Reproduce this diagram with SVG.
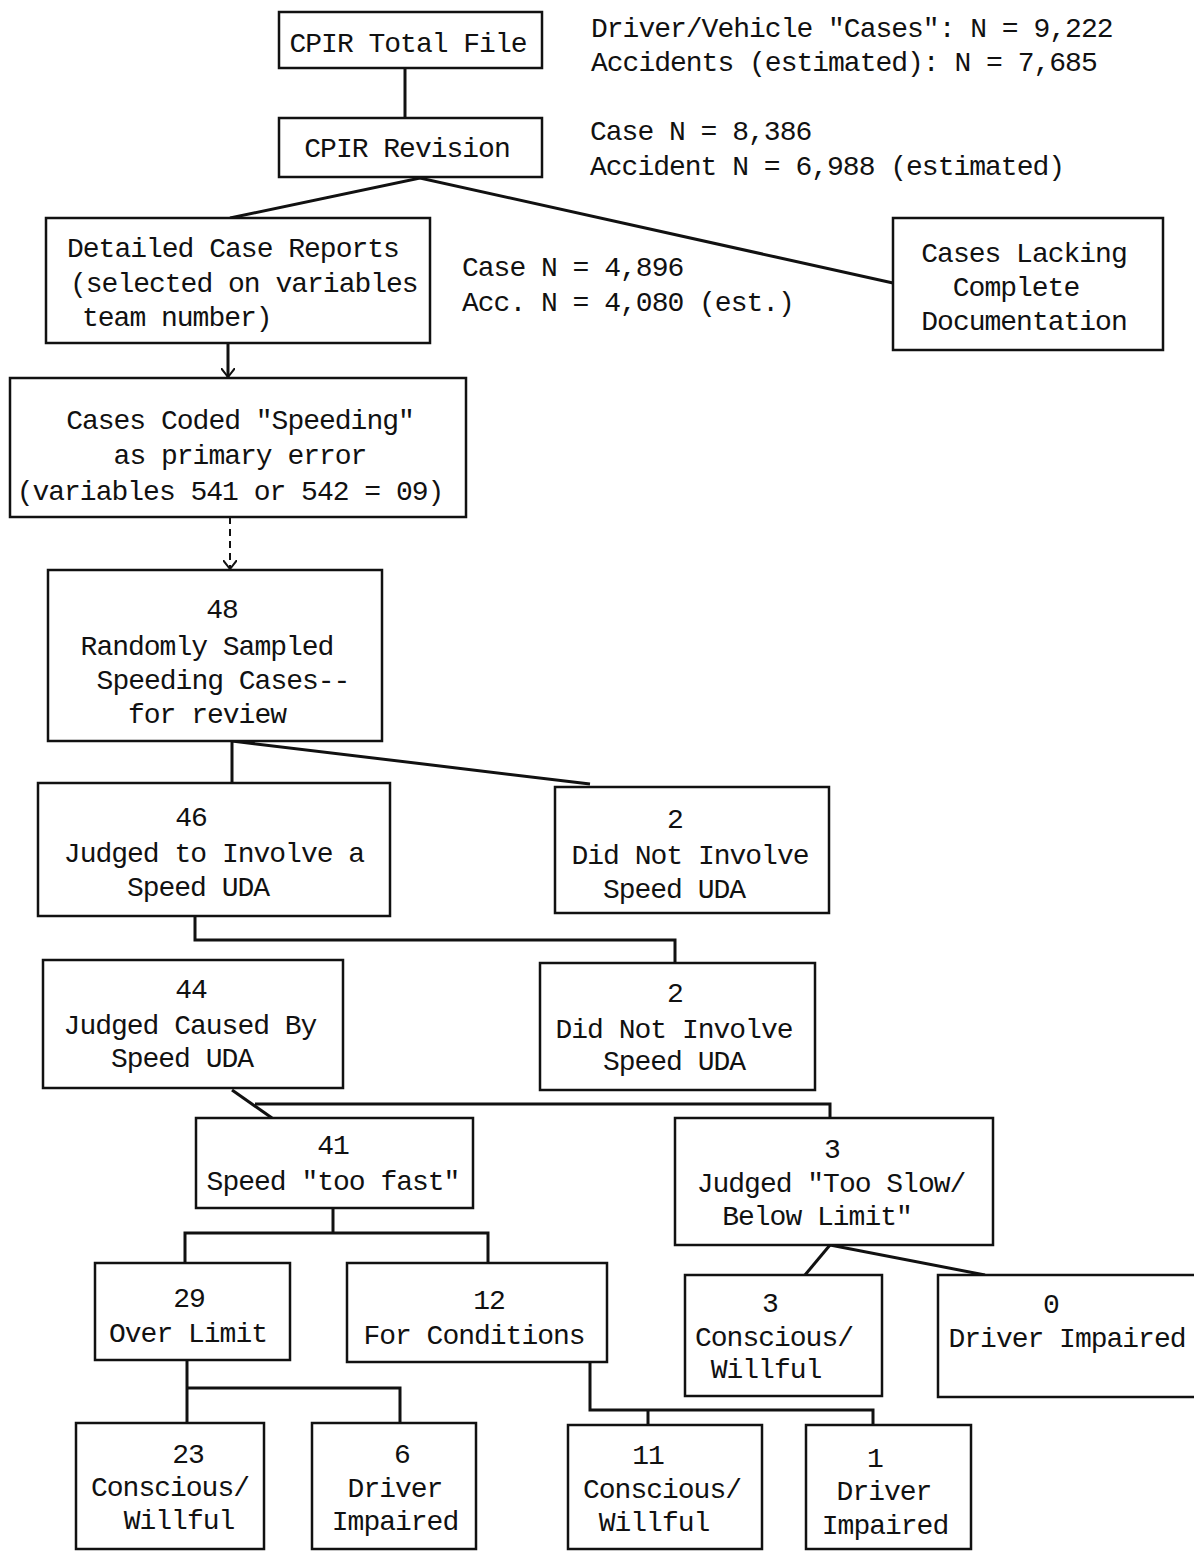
<svg xmlns="http://www.w3.org/2000/svg" width="1194" height="1551" viewBox="0 0 1194 1551">
<style>
  text { font-family: "Liberation Mono", "DejaVu Sans Mono", monospace; font-size: 28px; letter-spacing: -1px; fill: #111; }
  .c { text-anchor: middle; }
  .box { fill: #fff; stroke: #111; stroke-width: 2.5; }
  .edge { fill: none; stroke: #111; stroke-width: 3; }
  .dash { fill: none; stroke: #111; stroke-width: 2; stroke-dasharray: 7 5; }
</style>
<defs>
  <marker id="arr" viewBox="0 0 10 14" refX="9" refY="7" markerWidth="10" markerHeight="14" markerUnits="userSpaceOnUse" orient="auto">
    <path d="M0,0 L9,7 L0,14" fill="none" stroke="#111" stroke-width="2"/>
  </marker>
</defs>
<rect width="1194" height="1551" fill="#fff"/>

<g id="connectors">
  <line class="edge" x1="405" y1="68" x2="405" y2="118"/>
  <polyline class="edge" points="230,218 420,178 893,283"/>
  <line class="edge" x1="228" y1="343" x2="228" y2="377" marker-end="url(#arr)"/>
  <line class="dash" x1="230" y1="517" x2="230" y2="569" marker-end="url(#arr)"/>
  <line class="edge" x1="232" y1="741" x2="232" y2="783"/>
  <line class="edge" x1="232" y1="741" x2="590" y2="784"/>
  <polyline class="edge" points="195,916 195,940 675,940 675,963"/>
  <line class="edge" x1="232" y1="1090" x2="272" y2="1118"/>
  <polyline class="edge" points="255,1104 830,1104 830,1118"/>
  <line class="edge" x1="333" y1="1208" x2="333" y2="1233"/>
  <polyline class="edge" points="185,1263 185,1233 488,1233 488,1263"/>
  <line class="edge" x1="830" y1="1245" x2="805" y2="1275"/>
  <line class="edge" x1="830" y1="1245" x2="985" y2="1275"/>
  <line class="edge" x1="187" y1="1360" x2="187" y2="1423"/>
  <polyline class="edge" points="187,1388 400,1388 400,1423"/>
  <polyline class="edge" points="590,1362 590,1410 873,1410 873,1425"/>
  <line class="edge" x1="648" y1="1410" x2="648" y2="1425"/>
</g>

<g id="notes">
  <text x="591" y="37">Driver/Vehicle "Cases":  N = 9,222</text>
  <text x="591" y="71">Accidents (estimated):  N = 7,685</text>
  <text x="590" y="140">Case N = 8,386</text>
  <text x="590" y="175">Accident N = 6,988 (estimated)</text>
  <text x="462" y="276">Case N = 4,896</text>
  <text x="462" y="311">Acc. N = 4,080 (est.)</text>
</g>

<g id="n-total">
  <rect class="box" x="279" y="12" width="263" height="56"/>
  <text class="c" x="408" y="52">CPIR Total File</text>
</g>
<g id="n-revision">
  <rect class="box" x="279" y="118" width="263" height="59"/>
  <text class="c" x="407" y="157">CPIR Revision</text>
</g>
<g id="n-detailed">
  <rect class="box" x="46" y="218" width="384" height="125"/>
  <text x="67" y="257">Detailed Case Reports</text>
  <text x="70" y="292">(selected on variables</text>
  <text x="82" y="326">team number)</text>
</g>
<g id="n-lacking">
  <rect class="box" x="893" y="218" width="270" height="132"/>
  <text class="c" x="1024" y="262">Cases Lacking</text>
  <text class="c" x="1016" y="296">Complete</text>
  <text class="c" x="1024" y="330">Documentation</text>
</g>
<g id="n-coded">
  <rect class="box" x="10" y="378" width="456" height="139"/>
  <text class="c" x="240" y="429">Cases Coded "Speeding"</text>
  <text class="c" x="240" y="464">as primary error</text>
  <text class="c" x="230" y="500">(variables 541 or 542 = 09)</text>
</g>
<g id="n-48">
  <rect class="box" x="48" y="570" width="334" height="171"/>
  <text class="c" x="222" y="618">48</text>
  <text class="c" x="207" y="655">Randomly Sampled</text>
  <text class="c" x="223" y="689">Speeding Cases--</text>
  <text class="c" x="207" y="723">for review</text>
</g>
<g id="n-46">
  <rect class="box" x="38" y="783" width="352" height="133"/>
  <text class="c" x="191" y="826">46</text>
  <text class="c" x="214" y="862">Judged to Involve a</text>
  <text class="c" x="198" y="896">Speed UDA</text>
</g>
<g id="n-2a">
  <rect class="box" x="555" y="787" width="274" height="126"/>
  <text class="c" x="675" y="828">2</text>
  <text class="c" x="690" y="864">Did Not Involve</text>
  <text class="c" x="674" y="898">Speed UDA</text>
</g>
<g id="n-44">
  <rect class="box" x="43" y="960" width="300" height="128"/>
  <text class="c" x="191" y="998">44</text>
  <text class="c" x="190" y="1034">Judged Caused By</text>
  <text class="c" x="182" y="1067">Speed UDA</text>
</g>
<g id="n-2b">
  <rect class="box" x="540" y="963" width="275" height="127"/>
  <text class="c" x="675" y="1002">2</text>
  <text class="c" x="674" y="1038">Did Not Involve</text>
  <text class="c" x="674" y="1070">Speed UDA</text>
</g>
<g id="n-41">
  <rect class="box" x="196" y="1118" width="277" height="90"/>
  <text class="c" x="333" y="1154">41</text>
  <text class="c" x="333" y="1190">Speed "too fast"</text>
</g>
<g id="n-3slow">
  <rect class="box" x="675" y="1118" width="318" height="127"/>
  <text class="c" x="832" y="1158">3</text>
  <text class="c" x="831" y="1192">Judged "Too Slow/</text>
  <text class="c" x="817" y="1225">Below Limit"</text>
</g>
<g id="n-29">
  <rect class="box" x="95" y="1263" width="195" height="97"/>
  <text class="c" x="189" y="1307">29</text>
  <text class="c" x="188" y="1342">Over Limit</text>
</g>
<g id="n-12">
  <rect class="box" x="347" y="1263" width="260" height="99"/>
  <text class="c" x="489" y="1309">12</text>
  <text class="c" x="474" y="1344">For Conditions</text>
</g>
<g id="n-3cw">
  <rect class="box" x="685" y="1275" width="197" height="121"/>
  <text class="c" x="770" y="1312">3</text>
  <text class="c" x="774" y="1346">Conscious/</text>
  <text class="c" x="766" y="1378">Willful</text>
</g>
<g id="n-0">
  <rect class="box" x="938" y="1275" width="270" height="122"/>
  <text class="c" x="1051" y="1313">0</text>
  <text class="c" x="1067" y="1347">Driver Impaired</text>
</g>
<g id="n-23">
  <rect class="box" x="76" y="1423" width="188" height="126"/>
  <text class="c" x="188" y="1463">23</text>
  <text class="c" x="170" y="1496">Conscious/</text>
  <text class="c" x="179" y="1529">Willful</text>
</g>
<g id="n-6">
  <rect class="box" x="312" y="1423" width="164" height="126"/>
  <text class="c" x="402" y="1463">6</text>
  <text class="c" x="395" y="1497">Driver</text>
  <text class="c" x="395" y="1530">Impaired</text>
</g>
<g id="n-11">
  <rect class="box" x="568" y="1425" width="194" height="124"/>
  <text class="c" x="648" y="1464">11</text>
  <text class="c" x="662" y="1498">Conscious/</text>
  <text class="c" x="654" y="1531">Willful</text>
</g>
<g id="n-1">
  <rect class="box" x="806" y="1425" width="165" height="124"/>
  <text class="c" x="875" y="1467">1</text>
  <text class="c" x="884" y="1500">Driver</text>
  <text class="c" x="885" y="1534">Impaired</text>
</g>
</svg>
